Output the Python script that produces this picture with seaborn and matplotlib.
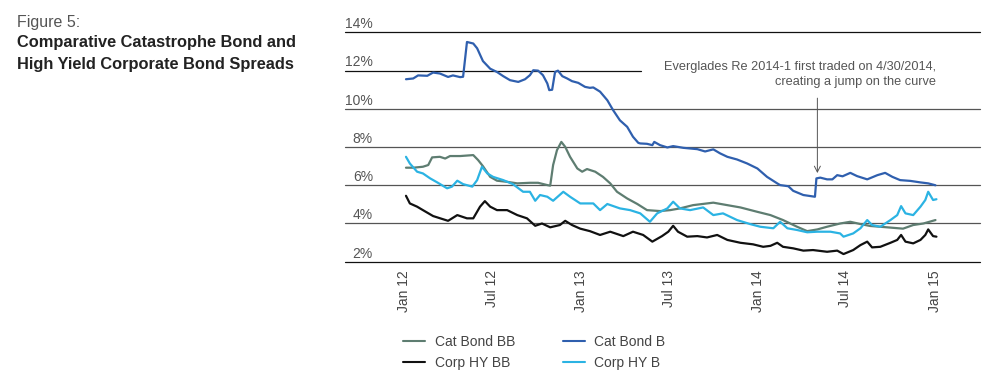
import matplotlib
matplotlib.use("Agg")
import pandas as pd
import seaborn as sns
import matplotlib.pyplot as plt
from matplotlib.transforms import blended_transform_factory, offset_copy

# ---------------- data ----------------
cat_bond_b_dates = ["2012-01-05","2012-01-20","2012-01-30","2012-02-18","2012-03-01","2012-03-15","2012-04-01",
    "2012-04-11","2012-04-26","2012-05-02","2012-05-10","2012-05-23","2012-05-31","2012-06-12","2012-06-27",
    "2012-07-11","2012-07-24","2012-08-07","2012-08-24","2012-09-07","2012-09-17","2012-09-24","2012-10-04",
    "2012-10-14","2012-10-23","2012-10-27","2012-11-02","2012-11-08","2012-11-14","2012-11-23","2012-12-03",
    "2012-12-13","2012-12-26","2013-01-09","2013-01-19","2013-01-26","2013-02-09","2013-02-24","2013-03-08",
    "2013-03-22","2013-04-06","2013-04-18","2013-04-29","2013-05-03","2013-05-17","2013-05-28","2013-06-01",
    "2013-06-13","2013-06-28","2013-07-10","2013-07-31","2013-08-29","2013-09-14","2013-10-01","2013-10-15",
    "2013-10-30","2013-11-19","2013-12-10","2013-12-31","2014-01-20","2014-02-10","2014-02-16","2014-03-05",
    "2014-03-15","2014-04-05","2014-04-29","2014-05-02","2014-05-10","2014-05-24","2014-06-04","2014-06-14",
    "2014-06-25","2014-07-11","2014-07-25","2014-08-15","2014-09-05","2014-09-21","2014-10-06","2014-10-22",
    "2014-11-12","2014-12-03","2014-12-19","2015-01-03"]
cat_bond_b_values = [11.55,11.59,11.75,11.73,11.90,11.85,11.67,11.75,11.66,11.68,13.50,13.42,13.17,12.50,12.10,
    11.93,11.71,11.50,11.41,11.55,11.76,12.02,12.00,11.76,11.33,10.98,11.00,11.93,12.00,11.71,11.59,11.45,11.36,
    11.15,11.10,11.12,10.90,10.45,9.93,9.40,9.06,8.54,8.22,8.19,8.17,8.10,8.27,8.10,7.98,8.05,7.96,7.89,7.77,
    7.88,7.67,7.49,7.35,7.14,6.88,6.44,6.10,6.01,5.95,5.71,5.49,5.40,6.36,6.40,6.31,6.31,6.53,6.47,6.65,6.48,
    6.31,6.53,6.65,6.44,6.27,6.23,6.15,6.10,6.00]

cat_bond_bb_dates = ["2012-01-05","2012-01-20","2012-02-09","2012-02-20","2012-02-28","2012-03-15","2012-03-26",
    "2012-04-05","2012-04-26","2012-05-23","2012-06-02","2012-06-12","2012-06-27","2012-07-11","2012-08-01",
    "2012-08-22","2012-09-17","2012-10-04","2012-10-23","2012-10-29","2012-11-04","2012-11-12","2012-11-21",
    "2012-11-29","2012-12-09","2012-12-24","2013-01-03","2013-01-13","2013-01-30","2013-02-15","2013-03-02",
    "2013-03-16","2013-04-06","2013-04-27","2013-05-17","2013-06-13","2013-07-04","2013-07-24","2013-08-20",
    "2013-10-01","2013-10-30","2013-11-26","2013-12-31","2014-01-27","2014-02-22","2014-03-23","2014-04-13",
    "2014-05-04","2014-05-24","2014-06-20","2014-07-11","2014-08-01","2014-08-21","2014-09-25","2014-10-28",
    "2014-11-18","2014-12-09","2015-01-03"]
cat_bond_bb_values = [6.92,6.92,6.97,7.06,7.46,7.49,7.40,7.53,7.53,7.58,7.32,7.00,6.44,6.24,6.18,6.10,6.13,6.13,
    6.01,5.98,7.06,7.84,8.27,8.01,7.49,6.88,6.71,6.85,6.71,6.44,6.10,5.66,5.31,5.02,4.70,4.65,4.70,4.79,4.96,
    5.09,4.96,4.84,4.61,4.44,4.18,3.83,3.60,3.69,3.83,4.00,4.09,3.97,3.87,3.80,3.73,3.92,4.00,4.18]

corp_hy_b_dates = ["2012-01-05","2012-01-13","2012-01-28","2012-02-09","2012-02-24","2012-03-11","2012-03-30",
    "2012-04-09","2012-04-20","2012-05-02","2012-05-21","2012-05-31","2012-06-10","2012-06-21","2012-07-03",
    "2012-07-24","2012-08-13","2012-09-03","2012-09-17","2012-09-28","2012-10-08","2012-10-23","2012-11-04",
    "2012-11-25","2012-12-09","2012-12-30","2013-01-26","2013-02-09","2013-02-24","2013-03-22","2013-04-12",
    "2013-05-03","2013-05-23","2013-06-07","2013-06-28","2013-07-10","2013-07-24","2013-08-14","2013-09-10",
    "2013-10-01","2013-10-21","2013-11-19","2013-12-16","2014-01-06","2014-02-02","2014-02-16","2014-03-03",
    "2014-03-23","2014-04-13","2014-05-04","2014-05-31","2014-06-20","2014-06-27","2014-07-17","2014-08-01",
    "2014-08-15","2014-08-25","2014-09-11","2014-10-02","2014-10-16","2014-10-24","2014-11-02","2014-11-18",
    "2014-12-03","2014-12-13","2014-12-19","2014-12-29","2015-01-05"]
corp_hy_b_values = [7.49,7.14,6.71,6.62,6.36,6.13,5.84,5.93,6.24,6.06,5.93,6.27,6.97,6.62,6.44,6.27,6.06,5.66,
    5.66,5.19,5.49,5.40,5.19,5.66,5.40,5.05,5.05,4.70,5.02,4.79,4.70,4.53,4.09,4.53,4.79,5.14,4.79,4.70,4.84,
    4.44,4.53,4.18,3.97,3.83,3.75,4.09,3.75,3.66,3.54,3.57,3.57,3.48,3.31,3.48,3.75,4.18,3.92,3.83,4.18,4.44,
    4.91,4.53,4.44,4.88,5.23,5.66,5.23,5.27]

corp_hy_bb_dates = ["2012-01-05","2012-01-13","2012-01-28","2012-02-09","2012-03-01","2012-03-22","2012-04-01",
    "2012-04-20","2012-05-10","2012-05-23","2012-06-06","2012-06-16","2012-06-27","2012-07-11","2012-08-01",
    "2012-08-22","2012-09-11","2012-09-28","2012-10-12","2012-10-29","2012-11-18","2012-11-29","2012-12-13",
    "2012-12-30","2013-01-19","2013-02-09","2013-03-02","2013-03-29","2013-04-18","2013-05-09","2013-05-28",
    "2013-06-17","2013-06-30","2013-07-10","2013-07-20","2013-08-08","2013-08-29","2013-09-18","2013-10-09",
    "2013-10-30","2013-11-26","2013-12-22","2014-01-12","2014-01-27","2014-02-10","2014-02-22","2014-03-15",
    "2014-04-05","2014-04-25","2014-05-24","2014-06-14","2014-06-27","2014-07-17","2014-08-01","2014-08-15",
    "2014-08-25","2014-09-11","2014-10-02","2014-10-16","2014-10-24","2014-11-02","2014-11-18","2014-12-03",
    "2014-12-13","2014-12-19","2014-12-29","2015-01-05"]
corp_hy_bb_values = [5.45,5.05,4.88,4.70,4.39,4.22,4.14,4.44,4.27,4.27,4.88,5.17,4.88,4.70,4.70,4.44,4.27,3.88,
    4.00,3.80,3.92,4.14,3.92,3.73,3.60,3.40,3.57,3.34,3.57,3.40,3.05,3.34,3.57,3.88,3.57,3.31,3.34,3.27,3.40,
    3.14,2.99,2.91,2.78,2.83,2.99,2.78,2.70,2.58,2.61,2.52,2.58,2.40,2.61,2.87,3.05,2.75,2.78,2.99,3.14,3.40,
    3.05,2.96,3.14,3.40,3.69,3.34,3.31]

series_names = ["Cat Bond BB", "Corp HY BB", "Cat Bond B", "Corp HY B"]
series_colors = ["#5e7d71", "#111111", "#2f5fae", "#2bb3e3"]

y_ticks = [2, 4, 6, 8, 10, 12, 14]
y_tick_labels = ["2%", "4%", "6%", "8%", "10%", "12%", "14%"]
x_tick_dates = ["2012-01-01", "2012-07-01", "2013-01-01", "2013-07-01", "2014-01-01", "2014-07-01", "2015-01-01"]
x_tick_labels = ["Jan 12", "Jul 12", "Jan 13", "Jul 13", "Jan 14", "Jul 14", "Jan 15"]

annotation_text = "Everglades Re 2014-1 first traded on 4/30/2014,\ncreating a jump on the curve"
annotation_date = "2014-05-04"

# ---------------- frame ----------------
frames = []
for name, d, v in [("Cat Bond BB", cat_bond_bb_dates, cat_bond_bb_values),
                   ("Corp HY BB", corp_hy_bb_dates, corp_hy_bb_values),
                   ("Cat Bond B", cat_bond_b_dates, cat_bond_b_values),
                   ("Corp HY B", corp_hy_b_dates, corp_hy_b_values)]:
    frames.append(pd.DataFrame({"date": pd.to_datetime(d), "value": v, "series": name}))
df = pd.concat(frames, ignore_index=True)

sns.set_theme(style="white")
plt.rcParams["font.family"] = ["Liberation Sans", "DejaVu Sans"]

fig = plt.figure(figsize=(10, 3.86), dpi=100)
ax = fig.add_axes([0.345, 0.322, 0.635, 0.594])

sns.lineplot(data=df, x="date", y="value", hue="series", hue_order=series_names,
             palette=dict(zip(series_names, series_colors)), linewidth=1.6, ax=ax,
             estimator=None, sort=True)

ax.set_ylim(2, 14)
ax.set_xlim(pd.Timestamp("2011-09-01"), pd.Timestamp("2015-04-05"))
for s in ax.spines.values():
    s.set_visible(False)
ax.set_xlabel("")
ax.set_ylabel("")
ax.set_yticks([])

# horizontal rules
for v in y_ticks:
    col = "#111111" if v in (2, 12, 14) else "#555555"
    xmax = 0.466 if v == 12 else 1.0
    ax.axhline(v, xmin=0, xmax=xmax, color=col, lw=0.9, zorder=0, clip_on=False)

# y labels sitting above the rules
ytrans = offset_copy(blended_transform_factory(ax.transAxes, ax.transData), fig=fig, y=3, units="points")
for v, lbl in zip(y_ticks, y_tick_labels):
    ax.text(0.044, v, lbl, transform=ytrans, ha="right", va="baseline", fontsize=10, color="#555555")

ax.set_xticks(pd.to_datetime(x_tick_dates), x_tick_labels, rotation=90)
ax.tick_params(axis="x", length=0, pad=6, labelsize=10, labelcolor="#444444")

# annotation
ad = pd.Timestamp(annotation_date)
ax.annotate("", xy=(ad, 6.64), xytext=(ad, 10.56),
            arrowprops=dict(arrowstyle="->,head_length=0.35,head_width=0.18", color="#555555",
                            lw=0.7, shrinkA=0, shrinkB=0))
ax.text(pd.Timestamp("2015-01-04"), 12.49, annotation_text, ha="right", va="top",
        fontsize=9.2, color="#555555", linespacing=1.25)

# legend
sns.move_legend(ax, "upper left", bbox_to_anchor=(0.403, 0.132), bbox_transform=fig.transFigure,
                ncol=2, frameon=False, title=None, fontsize=10, handlelength=1.6,
                handletextpad=0.7, columnspacing=3.4, borderaxespad=0, borderpad=0, labelspacing=0.5)
leg = ax.get_legend()
for t in leg.get_texts():
    t.set_color("#444444")
for h in leg.get_lines():
    h.set_linewidth(1.5)

# titles
fig.text(0.017, 1 - 27 / 386, "Figure 5:", fontsize=11.5, color="#555555", va="baseline")
fig.text(0.017, 1 - 47 / 386, "Comparative Catastrophe Bond and", fontsize=11.8,
         fontweight="bold", color="#222222", va="baseline")
fig.text(0.017, 1 - 69 / 386, "High Yield Corporate Bond Spreads", fontsize=11.8,
         fontweight="bold", color="#222222", va="baseline")

fig.savefig("out.png", dpi=100)
